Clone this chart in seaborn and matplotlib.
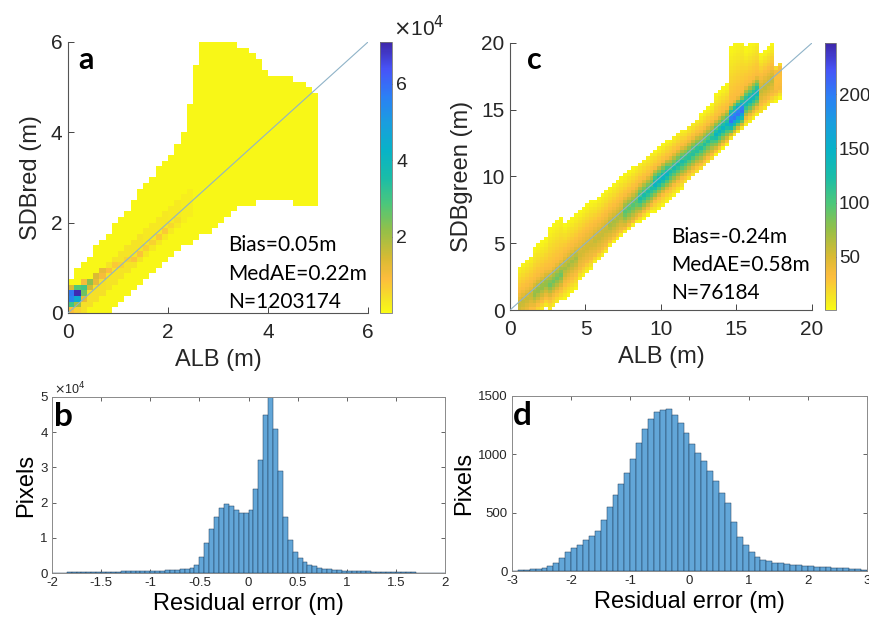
import numpy as np
import pandas as pd
import matplotlib
matplotlib.use("Agg")
import matplotlib.pyplot as plt
import seaborn as sns
from matplotlib.colors import LinearSegmentedColormap

# ---------------------------------------------------------------- data
# Panel a : SDBred vs ALB (2-D density), ALB columns 0.125 m wide from 0 to 5 m
a_ylo = [0.0, 0.0, 0.0, 0.0, 0.0, 0.0, 0.05, 0.15, 0.3, 0.4,
         0.55, 0.65, 0.75, 0.85, 1.0, 1.1, 1.2, 1.35, 1.45, 1.55,
         1.65, 1.75, 1.8, 1.9, 2.0, 2.15, 2.3, 2.35, 2.4, 2.4,
         2.45, 2.45, 2.45, 2.45, 2.45, 2.45, 2.4, 2.4, 2.35, 2.35]
a_yhi = [0.8, 0.95, 1.1, 1.3, 1.45, 1.6, 1.75, 1.95, 2.1, 2.3,
         2.5, 2.7, 2.9, 3.05, 3.2, 3.35, 3.5, 3.7, 4.0, 4.6,
         5.5, 6.0, 6.0, 6.0, 6.0, 6.0, 6.0, 5.9, 5.9, 5.8,
         5.6, 5.4, 5.25, 5.2, 5.2, 5.2, 5.15, 5.1, 5.0, 4.9]
a_band = [4000, 4000, 4000, 4000, 4000, 4000, 3500, 3500, 3500, 3500,
          3500, 3500, 3000, 3000, 3000, 3000, 2500, 2500, 2000, 2000,
          0, 0, 0, 0, 0, 0, 0, 0, 0, 0,
          0, 0, 0, 0, 0, 0, 0, 0, 0, 0]
a_base = 600
a_hot_x = [0.0625, 0.0625, 0.0625, 0.0625, 0.0625, 0.1875, 0.1875, 0.1875,
           0.1875, 0.1875, 0.3125, 0.3125, 0.3125, 0.3125, 0.4375, 0.4375,
           0.5625, 0.5625, 0.6875, 0.6875, 0.8125, 0.9375, 1.0625, 1.1875,
           1.3125, 1.4375, 1.5625, 1.6875, 1.8125, 1.9375, 2.0625, 2.1875]
a_hot_y = [0.0625, 0.1875, 0.3125, 0.4375, 0.5625, 0.0625, 0.1875, 0.3125,
           0.4375, 0.5625, 0.3125, 0.4375, 0.5625, 0.6875, 0.5625, 0.6875,
           0.6875, 0.8125, 0.8125, 0.9375, 0.9375, 1.0625, 1.0625, 1.1875,
           1.1875, 1.3125, 1.4375, 1.5625, 1.6875, 1.8125, 1.9375, 2.0625]
a_hot_n = [9000, 30000, 55000, 58000, 14000, 6000, 20000, 45000,
           70000, 28000, 12000, 25000, 30000, 10000, 15000, 22000,
           12000, 14000, 10000, 12000, 9000, 7000, 6000, 6000,
           8000, 8000, 6000, 6000, 7000, 7000, 5000, 4000]

# Panel c : SDBgreen vs ALB, ALB columns 1 m wide (offsets from the 1:1 line)
c_col_left = [0.5, 1.5, 2.5, 3.5, 4.5, 5.5, 6.5, 7.5, 8.5, 9.5,
              10.5, 11.5, 12.5, 13.5, 14.5, 15.5, 16.5, 17.5]
c_col_right = [1.5, 2.5, 3.5, 4.5, 5.5, 6.5, 7.5, 8.5, 9.5, 10.5,
               11.5, 12.5, 13.5, 14.5, 15.5, 16.5, 17.5, 18.0]
c_offset = [-0.3, -0.4, -0.7, -0.5, -0.4, -0.4, -0.3, -0.3, -0.3, -0.2,
            -0.3, -0.4, -0.5, -0.5, -0.4, -0.1, -0.2, -0.5]
c_below = [1.5, 1.8, 2.0, 2.3, 1.9, 1.7, 1.5, 1.5, 1.7, 2.1,
           2.0, 1.8, 1.7, 1.5, 1.4, 1.7, 1.8, 1.5]
c_above = [3.0, 3.4, 4.2, 3.3, 3.2, 3.0, 2.9, 2.8, 2.8, 2.5,
           2.5, 2.4, 2.5, 3.0, 5.4, 4.1, 2.7, 1.2]
c_core = [0.9, 1.0, 1.1, 1.1, 1.1, 1.1, 1.1, 1.2, 1.2, 1.2,
          1.2, 1.2, 1.2, 1.2, 1.2, 1.2, 1.0, 0.8]
c_peak = [60, 80, 90, 70, 55, 60, 70, 100, 130, 150,
          130, 125, 120, 145, 220, 150, 60, 30]

# Panel b : residual histogram (red band), bins 0.05 m
b_centers = [round(-1.975 + 0.05 * i, 3) for i in range(80)]
b_counts_e4 = [0.01, 0.01, 0.01, 0.015, 0.015, 0.02, 0.02, 0.025, 0.03, 0.03,
               0.035, 0.035, 0.04, 0.04, 0.045, 0.045, 0.05, 0.05, 0.055, 0.06,
               0.06, 0.065, 0.07, 0.075, 0.08, 0.09, 0.10, 0.12, 0.15, 0.22,
               0.45, 0.85, 1.25, 1.6, 1.85, 1.97, 1.9, 1.78, 1.7, 1.7,
               1.8, 2.4, 3.2, 4.5, 5.0, 4.1, 2.9, 1.6, 0.95, 0.6,
               0.42, 0.32, 0.24, 0.19, 0.15, 0.12, 0.10, 0.09, 0.08, 0.07,
               0.065, 0.06, 0.055, 0.05, 0.045, 0.04, 0.035, 0.03, 0.03, 0.025,
               0.02, 0.02, 0.018, 0.016, 0.014, 0.012, 0.01, 0.01, 0.008, 0.008]

# Panel d : residual histogram (green band), bins 0.1 m
d_centers = [round(-2.95 + 0.1 * i, 3) for i in range(60)]
d_counts = [4, 6, 9, 14, 20, 28, 42, 65, 110, 165,
            195, 222, 262, 300, 340, 440, 545, 650, 745, 840,
            960, 1100, 1220, 1300, 1360, 1380, 1390, 1340, 1270, 1180,
            1090, 1010, 940, 860, 770, 670, 580, 420, 290, 225,
            165, 120, 98, 85, 73, 66, 58, 52, 48, 45,
            42, 38, 34, 31, 29, 26, 23, 20, 16, 12]

# ---------------------------------------------------------------- style
sns.set_theme(style="ticks")
plt.rcParams["font.family"] = ["Liberation Sans", "DejaVu Sans"]
plt.rcParams["axes.unicode_minus"] = False

parula = LinearSegmentedColormap.from_list("parula", [
    (0.00, (0.2422, 0.1504, 0.6603)),
    (0.10, (0.2780, 0.3300, 0.9700)),
    (0.20, (0.1700, 0.5000, 0.9600)),
    (0.30, (0.1000, 0.6200, 0.8700)),
    (0.40, (0.0300, 0.7000, 0.7800)),
    (0.50, (0.1000, 0.7400, 0.6600)),
    (0.60, (0.3000, 0.7800, 0.4800)),
    (0.70, (0.5900, 0.7500, 0.2800)),
    (0.80, (0.8500, 0.7300, 0.2000)),
    (0.875, (0.9900, 0.7400, 0.2400)),
    (0.95, (0.9600, 0.8900, 0.1500)),
    (1.00, (0.9769, 0.9839, 0.0805))])
parula_r = parula.reversed()

TXT = "#262626"
fig = plt.figure(figsize=(8.7, 6.24), dpi=100)

ax_a = fig.add_axes([0.0782, 0.4984, 0.3448, 0.4343])
cax_a = fig.add_axes([0.4368, 0.4984, 0.0138, 0.4343])
ax_c = fig.add_axes([0.5862, 0.5032, 0.3471, 0.4279])
cax_c = fig.add_axes([0.9483, 0.5032, 0.0126, 0.4279])
ax_b = fig.add_axes([0.0598, 0.0817, 0.4517, 0.2821])
ax_d = fig.add_axes([0.5885, 0.0849, 0.4080, 0.2805])

# ---------------------------------------------------------------- panel a grid
step_a = 0.125
xe_a = np.arange(0, 5.0 + 1e-9, step_a)
ye_a = np.arange(0, 6.0 + 1e-9, step_a)
Wa = np.zeros((len(xe_a) - 1, len(ye_a) - 1))
for i in range(len(xe_a) - 1):
    xc = xe_a[i] + step_a / 2
    for j in range(len(ye_a) - 1):
        yc = ye_a[j] + step_a / 2
        if a_ylo[i] <= yc <= a_yhi[i]:
            Wa[i, j] = a_base
            if a_band[i] > 0 and abs(yc - xc) <= 0.3:
                Wa[i, j] = a_band[i]
for hx, hy, hn in zip(a_hot_x, a_hot_y, a_hot_n):
    Wa[int(hx / step_a), int(hy / step_a)] = hn
ii, jj = np.nonzero(Wa)
df_a = pd.DataFrame({"ALB": xe_a[ii] + step_a / 2, "SDB": ye_a[jj] + step_a / 2,
                     "n": Wa[ii, jj]})

sns.histplot(data=df_a, x="ALB", y="SDB", weights="n",
             bins=[list(xe_a), list(ye_a)],
             cmap=parula_r, vmin=0, vmax=71000, cbar=True, cbar_ax=cax_a,
             ax=ax_a)

# ---------------------------------------------------------------- panel c grid
step_c = 0.25
xe_c = np.arange(0.5, 18.0 + 1e-9, step_c)
ye_c = np.arange(0, 20.0 + 1e-9, step_c)
rows = []
for i in range(len(xe_c) - 1):
    xc = xe_c[i] + step_c / 2
    k = [kk for kk in range(len(c_col_left)) if c_col_left[kk] <= xc < c_col_right[kk]][0]
    y0 = xc + c_offset[k]
    for j in range(len(ye_c) - 1):
        yc = ye_c[j] + step_c / 2
        d = yc - y0
        if -c_below[k] <= d <= c_above[k]:
            w = float(np.interp(d, [-c_below[k], -c_core[k], 0, c_core[k], c_above[k]],
                                [3, 35, c_peak[k], 35, 3]))
            rows.append((xc, yc, w))
df_c = pd.DataFrame(rows, columns=["ALB", "SDB", "n"])
sns.histplot(data=df_c, x="ALB", y="SDB", weights="n",
             bins=[list(xe_c), list(ye_c)],
             cmap=parula_r, vmin=1, vmax=247, cbar=True, cbar_ax=cax_c,
             ax=ax_c)

# ---------------------------------------------------------------- scatter axes styling
for ax, lim, ticks, ylab, letter, stats, tpos in [
        (ax_a, 6, [0, 2, 4, 6], "SDBred (m)", "a",
         ["Bias=0.05m", "MedAE=0.22m", "N=1203174"], [(0.533, 0.251), (0.533, 0.144), (0.533, 0.041)]),
        (ax_c, 20, [0, 5, 10, 15, 20], "SDBgreen (m)", "c",
         ["Bias=-0.24m", "MedAE=0.58m", "N=76184"], [(0.533, 0.273), (0.533, 0.169), (0.533, 0.064)])]:
    ax.plot([0, lim], [0, lim], color="#8fb3c8", lw=0.8, zorder=3)
    ax.set_xlim(0, lim)
    ax.set_ylim(0, lim)
    ax.set_xticks(ticks)
    ax.set_yticks(ticks)
    ax.set_xlabel("ALB (m)", fontsize=17, color=TXT, labelpad=5)
    ax.set_ylabel(ylab, fontsize=17, color=TXT, labelpad=6)
    ax.tick_params(direction="in", length=4, width=0.6, labelsize=15,
                   colors=TXT)
    ax.tick_params(axis="x", pad=7)
    ax.tick_params(axis="y", pad=4)
    for s in ["top", "right"]:
        ax.spines[s].set_visible(False)
    for s in ["left", "bottom"]:
        ax.spines[s].set_color("#555555")
        ax.spines[s].set_linewidth(0.8)
    ax.text(0.06 if letter == "a" else 0.08, 0.935, letter, transform=ax.transAxes,
            fontsize=22, fontweight="bold", family="Lato", ha="center", va="center",
            color="black")
    for s, (tx, ty) in zip(stats, tpos):
        ax.text(tx, ty, s, transform=ax.transAxes, fontsize=15, family="Lato",
                ha="left", va="center", color="black")

cax_a.set_yticks([20000, 40000, 60000])
cax_a.set_yticklabels(["2", "4", "6"])
cax_c.set_yticks([50, 100, 150, 200])
cax_c.set_yticklabels(["50", "100", "150", "200"])
for cax in (cax_a, cax_c):
    cax.tick_params(direction="in", length=3, width=0.6, labelsize=14,
                    colors=TXT, pad=3)
    for s in cax.spines.values():
        s.set_color("#777777")
        s.set_linewidth(0.6)
cax_c.tick_params(pad=2, labelsize=13.5)
fig.text(0.452, 0.955, r"$\times$10$^4$", fontsize=15, color=TXT, ha="left",
         va="center")

# ---------------------------------------------------------------- histograms
BAR = "#62a6d8"
EDGE = "#1d3a57"
df_b = pd.DataFrame({"res": b_centers, "n": [v * 1e4 for v in b_counts_e4]})
b_edges = [round(-2.0 + 0.05 * i, 3) for i in range(81)]
sns.histplot(data=df_b, x="res", weights="n", bins=b_edges, ax=ax_b,
             color=BAR, alpha=1, edgecolor=EDGE, linewidth=0.35)
df_d = pd.DataFrame({"res": d_centers, "n": d_counts})
d_edges = [round(-3.0 + 0.1 * i, 3) for i in range(61)]
sns.histplot(data=df_d, x="res", weights="n", bins=d_edges, ax=ax_d,
             color=BAR, alpha=1, edgecolor=EDGE, linewidth=0.35)

ax_b.set_xlim(-2, 2)
ax_b.set_ylim(0, 50000)
ax_b.set_xticks([-2, -1.5, -1, -0.5, 0, 0.5, 1, 1.5, 2])
ax_b.set_xticklabels(["-2", "-1.5", "-1", "-0.5", "0", "0.5", "1", "1.5", "2"])
ax_b.set_yticks([0, 10000, 20000, 30000, 40000, 50000])
ax_b.set_yticklabels(["0", "1", "2", "3", "4", "5"])
ax_d.set_xlim(-3, 3)
ax_d.set_ylim(0, 1500)
ax_d.set_xticks([-3, -2, -1, 0, 1, 2, 3])
ax_d.set_xticklabels(["-3", "-2", "-1", "0", "1", "2", "3"])
ax_d.set_yticks([0, 500, 1000, 1500])
ax_d.set_yticklabels(["0", "500", "1000", "1500"])

for ax, letter in [(ax_b, "b"), (ax_d, "d")]:
    ax.set_xlabel("Residual error (m)", fontsize=17, color="black", labelpad=3)
    ax.set_ylabel("Pixels", fontsize=17, color="black", labelpad=2)
    ax.tick_params(direction="in", length=3, width=0.5, labelsize=9.5,
                   colors=TXT, pad=3, top=True, right=True)
    for s in ax.spines.values():
        s.set_visible(True)
        s.set_color("#8a8a8a")
        s.set_linewidth(0.7)
    ax.text(0.03, 0.89, letter, transform=ax.transAxes, fontsize=24,
            fontweight="bold", family="Lato", ha="center", va="center",
            color="black")
fig.text(0.062, 0.377, r"$\times$10$^4$", fontsize=9, color=TXT, ha="left",
         va="center")

fig.savefig("out.png", dpi=100)
